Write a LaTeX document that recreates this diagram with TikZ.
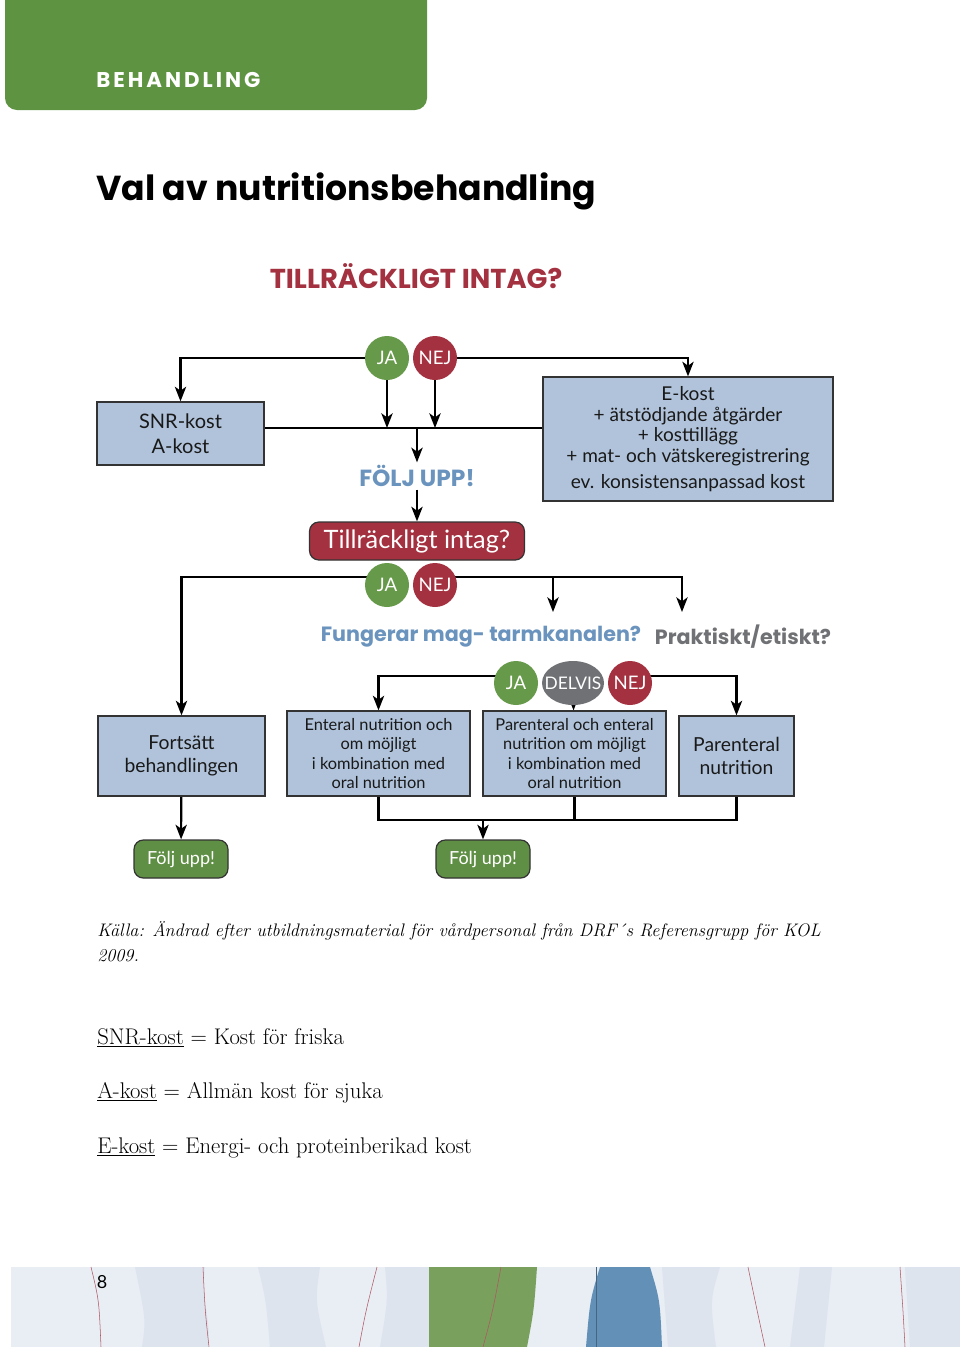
\documentclass[tikz,border=0pt]{standalone}
\usepackage{fontspec}
\newfontfamily\boxfont{Lato}
\newfontfamily\headfont{Poppins}
\newfontfamily\tabfont[LetterSpace=14]{Poppins}
\usetikzlibrary{positioning,arrows.meta,shapes.geometric,backgrounds}
\pgfdeclarelayer{paper}
\pgfsetlayers{paper,background,main}

\definecolor{tabgreen}{HTML}{5E9441}
\definecolor{jagreen}{HTML}{67994A}
\definecolor{nejred}{HTML}{A3313F}
\definecolor{boxblue}{HTML}{B0C3DB}
\definecolor{textblue}{HTML}{6A94BD}
\definecolor{delgray}{HTML}{6F7174}
\definecolor{fgreen}{HTML}{5F8F44}
\definecolor{bandbg}{HTML}{E9EDF4}
\definecolor{bandstripe}{HTML}{DDE4EE}
\definecolor{bandblue}{HTML}{6390B7}
\definecolor{bandgreen}{HTML}{7AA05E}
\definecolor{bandred}{HTML}{B05562}

\tikzset{
  dietbox/.style={draw=black!80, fill=boxblue, line width=0.9pt, align=center, inner sep=0pt, text=black!90},
  answer/.style={circle, minimum size=33pt, inner sep=0pt, text=white, font=\boxfont\fontsize{14}{14}\selectfont},
  jabubble/.style={answer, fill=jagreen},
  nejbubble/.style={answer, fill=nejred},
  followup/.style={draw=black!80, line width=0.9pt, fill=fgreen, rounded corners=7pt, minimum width=70.5pt, minimum height=28.5pt, inner sep=0pt, text=white, font=\boxfont\fontsize{13.5}{14}\selectfont},
  question/.style={inner sep=2pt, font=\headfont\bfseries\fontsize{15.5}{16}\selectfont},
  link/.style={line width=1.6pt},
  flow/.style={link, -{Stealth[length=11pt,width=8.5pt,inset=3pt]}},
  bandline/.style={draw=bandred, line width=0.4pt}
}

\begin{document}
\begin{tikzpicture}[x=0.75pt, y=-0.75pt]
    \useasboundingbox (0,0) rectangle (960,1347);
    \begin{pgfonlayer}{paper}
        \fill[white] (0,0) rectangle (960,1347);
    \end{pgfonlayer}

    \fill[tabgreen, rounded corners=9pt] (5,-30) rectangle (427,110);
    \node (tab) [anchor=west, inner sep=0pt, text=white, font=\tabfont\bfseries\fontsize{16}{16}\selectfont] at (96,80) {BEHANDLING};
    \node (title) [anchor=west, inner sep=0pt, font=\headfont\bfseries\fontsize{26}{26}\selectfont] at (96,191) {Val av nutritionsbehandling};
    \node (intaghead) [inner sep=0pt, text=nejred, font=\headfont\bfseries\fontsize{20.5}{20.5}\selectfont] at (416,276) {TILLRÄCKLIGT INTAG?};

    \node (snr) [dietbox, minimum width=125.25pt, minimum height=47.25pt, font=\boxfont\fontsize{15}{18.75}\selectfont] at (180.5,433.5) {SNR-kost\\A-kost};
    \node (ekost) [dietbox, minimum width=217.5pt, minimum height=93pt, font=\boxfont\fontsize{14.3}{15.4}\selectfont] at (688,439) {E-kost\\+ ätstödjande åtgärder\\+ kosttillägg\\+ mat- och vätskeregistrering\\[4pt]ev. konsistensanpassad kost};
    \node (foljupp) [question, text=textblue, font=\headfont\bfseries\fontsize{17.5}{17.5}\selectfont] at (417,476) {FÖLJ UPP!};
    \node (intag) [dietbox, fill=nejred, rounded corners=7pt, minimum width=161.25pt, minimum height=28.5pt, text=white, font=\boxfont\fontsize{19}{19}\selectfont] at (417,541) {Tillräckligt intag?};

    \node (mag) [question, text=textblue] at (481,637) {Fungerar mag- tarmkanalen?};
    \node (prak) [question, text=delgray] at (743,637) {Praktiskt/etiskt?};
    \coordinate (magin) at (553,612);
    \coordinate (prakin) at (682,612);

    \node (fortsatt) [dietbox, minimum width=125.25pt, minimum height=60pt, font=\boxfont\fontsize{14.5}{17}\selectfont] at (181.5,756) {Fortsätt\\behandlingen};
    \node (enteral) [dietbox, minimum width=137.25pt, minimum height=63.75pt, font=\boxfont\fontsize{12.3}{14.5}\selectfont] at (378.5,753.5) {Enteral nutrition och\\om möjligt\\i kombination med\\oral nutrition};
    \node (parent) [dietbox, minimum width=137.25pt, minimum height=63.75pt, font=\boxfont\fontsize{12.3}{14.5}\selectfont] at (574.5,753.5) {Parenteral och enteral\\nutrition om möjligt\\i kombination med\\oral nutrition};
    \node (parnut) [dietbox, minimum width=86.25pt, minimum height=60pt, font=\boxfont\fontsize{14.5}{17}\selectfont] at (736.5,756) {Parenteral\\nutrition};

    \node (folj1) [followup] at (181,859) {Följ upp!};
    \node (folj2) [followup] at (483,859) {Följ upp!};

    \begin{scope}[every node/.style={jabubble}]
        \node (ja1) at (387,358) {JA};
        \node (ja2) at (387,585) {JA};
        \node (ja3) at (516,683) {JA};
    \end{scope}
    \begin{scope}[every node/.style={nejbubble}]
        \node (nej1) at (435,358) {NEJ};
        \node (nej2) at (435,585) {NEJ};
        \node (nej3) at (630,683) {NEJ};
    \end{scope}
    \node (delvis) [answer, ellipse, fill=delgray, minimum width=46.5pt, minimum height=33pt, font=\boxfont\fontsize{13}{13}\selectfont] at (573,683) {\makebox[0pt]{DELVIS}};

    \coordinate (split1) at (417,428);
    \coordinate (split2) at (415,577);
    \coordinate (split3) at (574,676);
    \coordinate (join) at (483,820);

    \begin{pgfonlayer}{background}
        \draw[flow] (ja1) -| (snr);
        \draw[flow] (nej1) -| (ekost);
        \draw[flow] (ja1) -- (ja1 |- split1);
        \draw[flow] (nej1) -- (nej1 |- split1);
        \draw[link] (snr.east |- split1) -- (ekost.west |- split1);
        \draw[flow] (split1) -- (foljupp);
        \draw[flow] (foljupp) -- (intag);
        \draw[flow] (ja2 |- split2) -| (fortsatt);
        \draw[flow] (nej2 |- split2) -| (magin);
        \draw[flow] (magin |- split2) -| (prakin);
        \draw[flow] (ja3 |- split3) -| (enteral);
        \draw[flow] (nej3 |- split3) -| (parnut);
        \draw[flow] (delvis) -- (parent);
        \draw[link] (enteral.south) |- (join) -| (parnut.south);
        \draw[link] (parent) -- (parent |- join);
        \draw[flow] (join) -- (folj2);
        \draw[flow] (fortsatt) -- (folj1);
    \end{pgfonlayer}

    \node (kalla) [anchor=north west, inner sep=0pt, align=left, font=\itshape\fontsize{13.6}{18.75}\selectfont] at (97,921) {Källa: Ändrad efter utbildningsmaterial för vårdpersonal från DRF´s Referensgrupp för KOL\\2009.};
    \node (defsnr) [anchor=base west, inner sep=0pt, font=\fontsize{17}{17}\selectfont] at (97,1044) {\underline{SNR-kost} = Kost för friska};
    \node (defa) [anchor=base west, inner sep=0pt, font=\fontsize{17}{17}\selectfont] at (97,1098) {\underline{A-kost} = Allmän kost för sjuka};
    \node (defe) [anchor=base west, inner sep=0pt, font=\fontsize{17}{17}\selectfont] at (97,1153) {\underline{E-kost} = Energi- och proteinberikad kost};

    \fill[bandbg] (11,1267) rectangle (960,1347);
    \fill[bandstripe] (135,1267) -- (205,1267) .. controls (200,1300) and (212,1320) .. (208,1347) -- (142,1347) .. controls (146,1320) .. (135,1267) -- cycle;
    \fill[bandstripe] (258,1267) -- (320,1267) .. controls (315,1300) .. (326,1347) -- (270,1347) .. controls (266,1300) .. (258,1267) -- cycle;
    \fill[bandstripe] (385,1267) -- (429,1267) -- (429,1347) -- (380,1347) .. controls (388,1300) .. (385,1267) -- cycle;
    \fill[bandstripe] (662,1267) -- (720,1267) .. controls (710,1300) .. (716,1347) -- (668,1347) -- cycle;
    \fill[bandstripe] (800,1267) -- (832,1267) -- (824,1347) -- (790,1347) -- cycle;
    \fill[bandstripe] (905,1267) -- (960,1267) -- (960,1347) -- (910,1347) -- cycle;
    \fill[bandgreen] (429,1267) -- (537,1267) .. controls (534,1310) .. (527,1347) -- (429,1347) -- cycle;
    \fill[bandblue] (600,1267) -- (650,1267) .. controls (660,1300) .. (662,1347) -- (586,1347) .. controls (590,1300) .. (600,1267) -- cycle;
    \draw[bandline] (91,1267) .. controls (99,1300) .. (101,1347);
    \draw[bandline] (203,1267) .. controls (205,1310) .. (209,1347);
    \draw[bandline] (377,1267) .. controls (366,1310) .. (359,1347);
    \draw[bandline] (501,1267) .. controls (493,1310) .. (483,1347);
    \draw[draw=bandblue!70!black, line width=0.4pt] (596,1267) -- (596,1347);
    \draw[bandline] (748,1267) .. controls (757,1310) .. (765,1347);
    \draw[bandline] (900,1267) .. controls (903,1310) .. (905,1347);
    \node (pagenum) [inner sep=0pt, font=\boxfont\fontsize{13.5}{13.5}\selectfont] at (102,1282) {8};
\end{tikzpicture}
\end{document}
